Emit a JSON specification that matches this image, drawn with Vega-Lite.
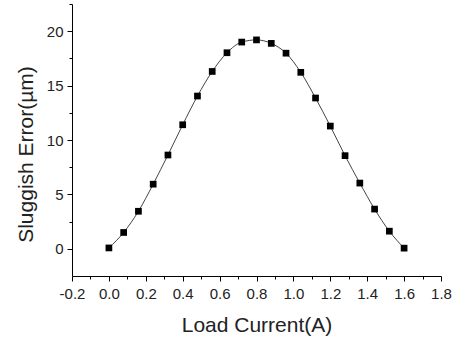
{
  "$schema": "https://vega.github.io/schema/vega-lite/v6.json",
  "width": 369,
  "height": 272,
  "autosize": {"type": "none"},
  "padding": {"left": 72, "top": 4, "right": 16, "bottom": 64},
  "background": "white",
  "config": {"view": {"stroke": null}, "font": "Liberation Sans"},
  "data": {
    "values": [
      {"current": 0.0, "error": 0.08},
      {"current": 0.08, "error": 1.5},
      {"current": 0.16, "error": 3.45},
      {"current": 0.24, "error": 5.94},
      {"current": 0.32, "error": 8.62},
      {"current": 0.40, "error": 11.4},
      {"current": 0.48, "error": 14.04},
      {"current": 0.56, "error": 16.3},
      {"current": 0.64, "error": 18.02},
      {"current": 0.72, "error": 19.0},
      {"current": 0.80, "error": 19.2},
      {"current": 0.88, "error": 18.88},
      {"current": 0.96, "error": 17.98},
      {"current": 1.04, "error": 16.22},
      {"current": 1.12, "error": 13.86},
      {"current": 1.20, "error": 11.28},
      {"current": 1.28, "error": 8.56},
      {"current": 1.36, "error": 6.04},
      {"current": 1.44, "error": 3.65},
      {"current": 1.52, "error": 1.62},
      {"current": 1.60, "error": 0.06}
    ]
  },
  "layer": [
    {
      "mark": {"type": "line", "color": "#444", "strokeWidth": 1, "interpolate": "monotone"},
      "encoding": {
        "x": {
          "field": "current", "type": "quantitative",
          "scale": {"domain": [-0.2, 1.8], "nice": false, "zero": false},
          "axis": {
            "values": [-0.2, 0, 0.2, 0.4, 0.6, 0.8, 1.0, 1.2, 1.4, 1.6, 1.8],
            "labelExpr": "datum.value < 0 ? '-' + format(-datum.value, '.1f') : format(datum.value, '.1f')",
            "grid": false, "domainColor": "black", "tickColor": "black", "tickSize": 5,
            "labelFontSize": 15, "labelColor": "#222", "labelPadding": 5,
            "labelFlush": false, "labelOverlap": false,
            "title": "Load Current(A)", "titleFontSize": 21, "titleFontWeight": "normal",
            "titleColor": "#222", "titleBaseline": "alphabetic", "titleY": 55
          }
        },
        "y": {
          "field": "error", "type": "quantitative",
          "scale": {"domain": [-2.5, 22.5], "nice": false, "zero": false},
          "axis": {
            "values": [0, 5, 10, 15, 20],
            "grid": false, "domainColor": "black", "tickColor": "black", "tickSize": 5,
            "labelFontSize": 15, "labelColor": "#222", "labelPadding": 4,
            "labelFlush": false, "labelOverlap": false,
            "title": "Sluggish Error(µm)", "titleFontSize": 21, "titleFontWeight": "normal",
            "titleColor": "#222", "titleBaseline": "alphabetic", "titleAngle": -90,
            "titleAlign": "center", "titleX": -40, "titleY": 150
          }
        }
      }
    },
    {
      "mark": {"type": "square", "color": "black", "size": 45, "opacity": 1},
      "encoding": {
        "x": {"field": "current", "type": "quantitative", "axis": null},
        "y": {"field": "error", "type": "quantitative", "axis": null}
      }
    },
    {
      "mark": {"type": "point", "opacity": 0},
      "encoding": {
        "x": {
          "field": "current", "type": "quantitative",
          "axis": {
            "orient": "bottom",
            "values": [-0.1, 0.1, 0.3, 0.5, 0.7, 0.9, 1.1, 1.3, 1.5, 1.7],
            "labels": false, "domain": false, "grid": false, "title": null,
            "tickColor": "black", "tickSize": 3
          }
        },
        "y": {
          "field": "error", "type": "quantitative",
          "axis": {
            "orient": "left",
            "values": [2.5, 7.5, 12.5, 17.5, 22.5],
            "labels": false, "domain": false, "grid": false, "title": null,
            "tickColor": "black", "tickSize": 3
          }
        }
      }
    }
  ],
  "resolve": {"axis": {"x": "independent", "y": "independent"}}
}
